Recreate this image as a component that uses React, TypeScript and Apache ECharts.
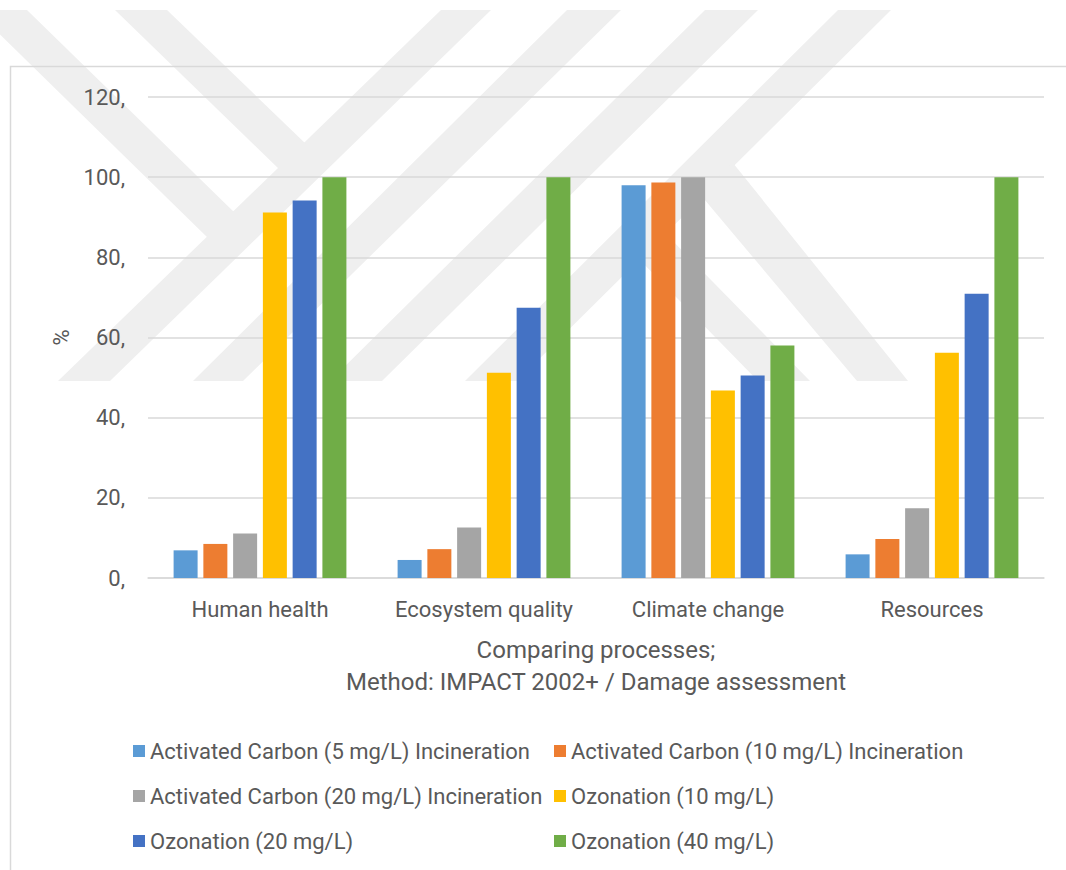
import React, { useEffect, useRef } from "react";
import * as echarts from "echarts";

const categories = ["Human health", "Ecosystem quality", "Climate change", "Resources"];
const seriesNames = [
  "Activated Carbon (5 mg/L) Incineration",
  "Activated Carbon (10 mg/L) Incineration",
  "Activated Carbon (20 mg/L) Incineration",
  "Ozonation (10 mg/L)",
  "Ozonation (20 mg/L)",
  "Ozonation (40 mg/L)",
];
const ac5 = [6.9, 4.5, 98.0, 5.9];
const ac10 = [8.5, 7.2, 98.7, 9.7];
const ac20 = [11.1, 12.6, 100, 17.4];
const oz10 = [91.2, 51.2, 46.8, 56.2];
const oz20 = [94.2, 67.4, 50.5, 70.9];
const oz40 = [100, 100, 58.0, 100];
const seriesValues = [ac5, ac10, ac20, oz10, oz20, oz40];
const colors = ["#5B9BD5", "#ED7D31", "#A5A5A5", "#FFC000", "#4472C4", "#70AD47"];
const yMin = 0;
const yMax = 120;
const yStep = 20;
const xTitle = "Comparing processes;\nMethod: IMPACT 2002+ / Damage assessment";
const yTitle = "%";

// faint background watermark bands (decorative)
const watermark: number[][][] = [
  [[441, 10], [491, 10], [110, 381], [58, 381]],
  [[567, 10], [621, 10], [243, 381], [193, 381]],
  [[705, 10], [758, 10], [382, 381], [330, 381]],
  [[838, 10], [891, 10], [517, 381], [465, 381]],
  [[-25, 10], [27, 10], [236, 214], [210, 240]],
  [[115, 10], [167, 10], [307, 145], [281, 171]],
  [[733, 163], [908, 381], [857, 381], [699, 193]],
  [[662, 230], [810, 381], [758, 381], [636, 256]],
];

const FONT = "Roboto";
const TXT = "#595959";

export default function App() {
  const ref = useRef<HTMLDivElement>(null);
  useEffect(() => {
    if (!ref.current) return;
    const chart = echarts.init(ref.current, undefined, { renderer: "svg" });
    const graphic: any[] = watermark.map((pts) => ({
      type: "polygon",
      z: -100,
      silent: true,
      shape: { points: pts },
      style: { fill: "#efefef" },
    }));
    graphic.push({
      type: "rect",
      z: 100,
      silent: true,
      shape: { x: 10.5, y: 66.5, width: 1100, height: 900 },
      style: { fill: "none", stroke: "#d9d9d9", lineWidth: 1.5 },
    });
    const legendText = { fontFamily: FONT, fontSize: 22, color: TXT, lineHeight: 24 };
    chart.setOption({
      animation: false,
      backgroundColor: "#ffffff",
      color: colors,
      textStyle: { fontFamily: FONT, color: TXT },
      graphic,
      grid: {
        left: 148,
        right: 22,
        top: 97,
        bottom: 292,
        containLabel: false,
        outerBoundsMode: "none",
      },
      legend: [
        {
          orient: "vertical",
          left: 133,
          top: 739,
          padding: 0,
          itemWidth: 12,
          itemHeight: 12,
          itemGap: 21,
          icon: "rect",
          data: [seriesNames[0], seriesNames[2], seriesNames[4]],
          textStyle: legendText,
        },
        {
          orient: "vertical",
          left: 554,
          top: 739,
          padding: 0,
          itemWidth: 12,
          itemHeight: 12,
          itemGap: 21,
          icon: "rect",
          data: [seriesNames[1], seriesNames[3], seriesNames[5]],
          textStyle: legendText,
        },
      ],
      xAxis: {
        type: "category",
        data: categories,
        name: xTitle,
        nameLocation: "middle",
        nameGap: 56,
        nameTextStyle: { fontFamily: FONT, fontSize: 24, color: TXT, lineHeight: 32 },
        axisLine: { show: true, lineStyle: { color: "#d9d9d9", width: 1.5 } },
        axisTick: { show: false },
        axisLabel: { fontFamily: FONT, fontSize: 22, color: TXT, margin: 20, interval: 0 },
      },
      yAxis: {
        type: "value",
        min: yMin,
        max: yMax,
        interval: yStep,
        name: yTitle,
        nameLocation: "middle",
        nameGap: 74,
        nameRotate: 90,
        nameTextStyle: { fontFamily: FONT, fontSize: 22, color: TXT },
        axisLine: { show: false },
        axisTick: { show: false },
        axisLabel: {
          fontFamily: FONT,
          fontSize: 22,
          color: TXT,
          margin: 23,
          formatter: (v: number) => `${v},`,
        },
        splitLine: { lineStyle: { color: "#d9d9d9", width: 1.5 } },
      },
      series: seriesNames.map((name, i) => ({
        name,
        type: "bar",
        data: seriesValues[i],
        barWidth: 24,
        barGap: "24%",
        itemStyle: { color: colors[i] },
      })),
    });
    return () => chart.dispose();
  }, []);
  return (
    <div
      ref={ref}
      style={{ position: "absolute", left: 0, top: 0, width: 1066, height: 870 }}
    />
  );
}
